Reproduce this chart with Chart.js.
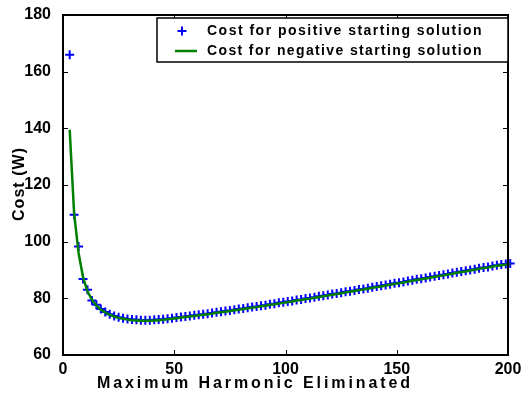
<!DOCTYPE html>
<html>
<head>
<meta charset="utf-8">
<script src="https://cdn.jsdelivr.net/npm/chart.js@4.4.1/dist/chart.umd.min.js"></script>
<style>
  body { margin: 0; background: #fff; }
  canvas { display: block; }
</style>
</head>
<body>
<canvas id="chart" width="522" height="395"></canvas>
<script>
"use strict";

// maximum harmonic eliminated (odd harmonics)
const harmonics = [
  3, 5, 7, 9, 11, 13, 15, 17, 19, 21,
  23, 25, 27, 29, 31, 33, 35, 37, 39, 41,
  43, 45, 47, 49, 51, 53, 55, 57, 59, 61,
  63, 65, 67, 69, 71, 73, 75, 77, 79, 81,
  83, 85, 87, 89, 91, 93, 95, 97, 99, 101,
  103, 105, 107, 109, 111, 113, 115, 117, 119, 121,
  123, 125, 127, 129, 131, 133, 135, 137, 139, 141,
  143, 145, 147, 149, 151, 153, 155, 157, 159, 161,
  163, 165, 167, 169, 171, 173, 175, 177, 179, 181,
  183, 185, 187, 189, 191, 193, 195, 197, 199, 201
];

// cost for positive starting solution (W)
const costPositive = [
  166, 109.5, 98.3, 86.8, 83.0, 79.2, 77.7, 76.2, 75.2, 74.4,
  73.8, 73.3, 73.0, 72.7, 72.5, 72.4, 72.3, 72.3, 72.3, 72.4,
  72.5, 72.6, 72.8, 73.0, 73.2, 73.4, 73.6, 73.8, 74.0, 74.2,
  74.4, 74.6, 74.8, 75.1, 75.3, 75.5, 75.7, 76.0, 76.2, 76.4,
  76.7, 76.9, 77.1, 77.4, 77.6, 77.9, 78.1, 78.4, 78.6, 78.9,
  79.1, 79.4, 79.6, 79.9, 80.1, 80.4, 80.7, 80.9, 81.2, 81.5,
  81.7, 82.0, 82.3, 82.5, 82.8, 83.1, 83.3, 83.6, 83.9, 84.2,
  84.4, 84.7, 85.0, 85.3, 85.5, 85.8, 86.1, 86.4, 86.7, 86.9,
  87.2, 87.5, 87.8, 88.1, 88.3, 88.6, 88.9, 89.2, 89.5, 89.7,
  90.0, 90.3, 90.6, 90.9, 91.1, 91.4, 91.7, 91.9, 92.1, 92.3
];

// cost for negative starting solution (W)
const costNegative = [
  139.5, 110, 96, 87.5, 82.5, 79.5, 77.5, 76.0, 75.0, 74.2,
  73.6, 73.1, 72.8, 72.5, 72.3, 72.2, 72.1, 72.1, 72.1, 72.2,
  72.3, 72.4, 72.6, 72.8, 73.0, 73.2, 73.4, 73.6, 73.8, 74.0,
  74.2, 74.4, 74.6, 74.9, 75.1, 75.3, 75.5, 75.8, 76.0, 76.2,
  76.5, 76.7, 76.9, 77.2, 77.4, 77.7, 77.9, 78.2, 78.4, 78.7,
  78.9, 79.2, 79.4, 79.7, 79.9, 80.2, 80.5, 80.7, 81.0, 81.3,
  81.5, 81.8, 82.1, 82.3, 82.6, 82.9, 83.1, 83.4, 83.7, 84.0,
  84.2, 84.5, 84.8, 85.1, 85.3, 85.6, 85.9, 86.2, 86.5, 86.7,
  87.0, 87.3, 87.6, 87.9, 88.1, 88.4, 88.7, 89.0, 89.3, 89.5,
  89.8, 90.1, 90.4, 90.7, 90.9, 91.2, 91.5, 91.7, 91.9, 92.1
];

const seriesLabels = ["Cost for positive starting solution", "Cost for negative starting solution"];
const xTicks = [0, 50, 100, 150, 200];
const yTicks = [60, 80, 100, 120, 140, 160, 180];
const xTitle = "Maximum Harmonic Eliminated";
const yTitle = "Cost (W)";

const FONT = "'Liberation Sans', Arial, sans-serif";

// draw text stretched by letter spacing to a given width
function spacedText(ctx, text, x, y, width) {
  ctx.letterSpacing = "0px";
  const w = ctx.measureText(text).width;
  const sp = Math.max(0, (width - w) / text.length);
  ctx.letterSpacing = sp.toFixed(2) + "px";
  ctx.textAlign = "left";
  ctx.fillText(text, x, y);
  ctx.letterSpacing = "0px";
}

// box, inward ticks, legend and axis titles
const framePlugin = {
  id: "frame",
  afterDraw(chart) {
    const ctx = chart.ctx;
    const a = chart.chartArea;
    const xs = chart.scales.x;
    const ys = chart.scales.y;
    ctx.save();
    ctx.strokeStyle = "#000";
    ctx.lineWidth = 1;
    for (const v of xTicks.slice(1, -1)) {
      const px = Math.round(xs.getPixelForValue(v)) + 0.5;
      ctx.beginPath();
      ctx.moveTo(px, a.bottom); ctx.lineTo(px, a.bottom - 5);
      ctx.moveTo(px, a.top); ctx.lineTo(px, a.top + 5);
      ctx.stroke();
    }
    for (const v of yTicks.slice(1, -1)) {
      const py = Math.round(ys.getPixelForValue(v)) + 0.5;
      ctx.beginPath();
      ctx.moveTo(a.left, py); ctx.lineTo(a.left + 5, py);
      ctx.moveTo(a.right, py); ctx.lineTo(a.right - 5, py);
      ctx.stroke();
    }
    ctx.lineWidth = 2;
    ctx.strokeRect(a.left, a.top, a.right - a.left, a.bottom - a.top);

    // legend
    const lx = 157, ly = 18, lw = 351, lh = 44;
    ctx.fillStyle = "#fff";
    ctx.fillRect(lx, ly, lw, lh);
    ctx.lineWidth = 1.5;
    ctx.strokeRect(lx, ly, lw, lh);
    ctx.strokeStyle = "#0000ff";
    ctx.lineWidth = 2;
    ctx.beginPath();
    ctx.moveTo(182 - 4.5, 31); ctx.lineTo(182 + 4.5, 31);
    ctx.moveTo(182, 31 - 4.5); ctx.lineTo(182, 31 + 4.5);
    ctx.stroke();
    ctx.strokeStyle = "#008000";
    ctx.lineWidth = 2.5;
    ctx.beginPath();
    ctx.moveTo(175, 51); ctx.lineTo(197, 51);
    ctx.stroke();
    ctx.fillStyle = "#000";
    ctx.font = "bold 14px " + FONT;
    ctx.textBaseline = "middle";
    spacedText(ctx, seriesLabels[0], 207, 31, 276);
    spacedText(ctx, seriesLabels[1], 207, 51, 276);

    // x title
    ctx.font = "bold 16px " + FONT;
    spacedText(ctx, xTitle, 97, 384, 316);

    // y title
    ctx.translate(20, 221);
    ctx.rotate(-Math.PI / 2);
    spacedText(ctx, yTitle, 0, 0, 74);
    ctx.restore();
  }
};

function renderChart() {
  const ctx = document.getElementById("chart");

  new Chart(ctx, {
    type: "scatter",
    data: {
      datasets: [
        {
          label: seriesLabels[0],
          data: harmonics.map((h, i) => ({ x: h, y: costPositive[i] })),
          showLine: false,
          pointStyle: "cross",
          pointRadius: 4.5,
          pointBorderWidth: 2,
          borderColor: "#0000ff",
          backgroundColor: "#0000ff",
          clip: false,
          order: 1
        },
        {
          label: seriesLabels[1],
          data: harmonics.map((h, i) => ({ x: h, y: costNegative[i] })),
          showLine: true,
          pointRadius: 0,
          borderWidth: 2.5,
          borderColor: "#008000",
          backgroundColor: "#008000",
          clip: false,
          order: 0
        }
      ]
    },
    options: {
      responsive: false,
      animation: false,
      layout: { padding: { top: 15, right: 14, left: 0, bottom: 0 } },
      scales: {
        x: {
          type: "linear",
          min: 0,
          max: 200,
          afterFit: (s) => { s.height = 40; },
          afterBuildTicks: (s) => { s.ticks = xTicks.map((v) => ({ value: v })); },
          ticks: { color: "#000", font: { family: FONT, size: 16, weight: "bold" }, padding: -3, maxRotation: 0 },
          grid: { display: false },
          border: { display: false }
        },
        y: {
          min: 60,
          max: 180,
          afterFit: (s) => { s.width = 63; },
          afterBuildTicks: (s) => { s.ticks = yTicks.map((v) => ({ value: v })); },
          ticks: { color: "#000", font: { family: FONT, size: 16, weight: "bold" }, padding: 4 },
          grid: { display: false },
          border: { display: false }
        }
      },
      plugins: {
        legend: { display: false },
        tooltip: { enabled: false }
      }
    },
    plugins: [framePlugin]
  });
}

renderChart();
</script>
</body>
</html>
